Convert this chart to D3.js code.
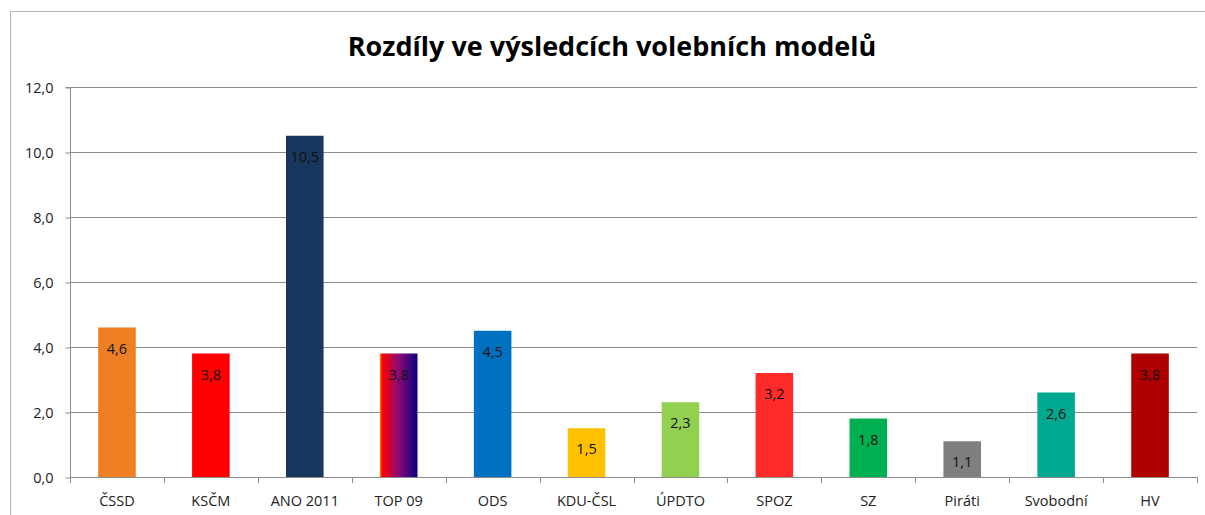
<!DOCTYPE html>
<html>
<head>
<meta charset="utf-8">
<script src="https://cdn.jsdelivr.net/npm/d3@7"></script>
<style>
  body { margin: 0; background: #fff; }
  text { font-family: "Open Sans", "Noto Sans", sans-serif; }
</style>
</head>
<body>
<div id="chart"></div>
<script>
var width = 1205;
var height = 515;

var parties = ['ČSSD', 'KSČM', 'ANO 2011', 'TOP 09', 'ODS', 'KDU-ČSL', 'ÚPDTO', 'SPOZ', 'SZ', 'Piráti', 'Svobodní', 'HV'];
var values = [4.6, 3.8, 10.5, 3.8, 4.5, 1.5, 2.3, 3.2, 1.8, 1.1, 2.6, 3.8];
var colors = ['#EE7F22', '#FF0000', '#17375E', 'url(#top09)', '#0070C0', '#FFC000', '#92D050', '#FF2B2B', '#00B050', '#7F7F7F', '#00A98F', '#AE0000'];
var yTicks = [0, 2, 4, 6, 8, 10, 12];

var margin = {top: 87, right: 8, bottom: 38, left: 70};

var svg = d3.select('#chart')
    .append('svg')
    .attr('width', width)
    .attr('height', height);

// gradient for TOP 09
var grad = svg.append('defs').append('linearGradient')
    .attr('id', 'top09')
    .attr('x1', '0%').attr('x2', '100%')
    .attr('y1', '0%').attr('y2', '0%');
grad.append('stop').attr('offset', '0%').attr('stop-color', '#FF8A00');
grad.append('stop').attr('offset', '6%').attr('stop-color', '#FF0000');
grad.append('stop').attr('offset', '50%').attr('stop-color', '#8A0A78');
grad.append('stop').attr('offset', '100%').attr('stop-color', '#0A0080');

// outer frame (clipped at right and bottom like the screenshot)
svg.append('rect')
    .attr('x', 10.5)
    .attr('y', 11.5)
    .attr('width', width + 20)
    .attr('height', height + 20)
    .attr('fill', 'none')
    .attr('stroke', '#B3B3B3')
    .attr('stroke-width', 1);

svg.append('text')
    .attr('x', 612)
    .attr('y', 56)
    .attr('text-anchor', 'middle')
    .attr('font-size', 27)
    .attr('font-weight', 'bold')
    .attr('fill', '#000')
    .text('Rozdíly ve výsledcích volebních modelů');

var x = d3.scaleBand()
    .domain(parties)
    .range([margin.left, width - margin.right])
    .paddingInner(0.6)
    .paddingOuter(0.3);

var y = d3.scaleLinear()
    .domain([0, 12])
    .range([height - margin.bottom, margin.top]);

// gridlines + y axis
var yAxis = d3.axisLeft(y)
    .tickValues(yTicks)
    .tickSize(5)
    .tickFormat((d) => d3.format('.1f')(d).replace('.', ','));

svg.append('g')
    .selectAll('line')
    .data(yTicks)
    .enter()
    .append('line')
    .attr('x1', margin.left)
    .attr('x2', width - margin.right)
    .attr('y1', (d) => Math.round(y(d)) + 0.5)
    .attr('y2', (d) => Math.round(y(d)) + 0.5)
    .attr('stroke', '#8C8C8C')
    .attr('stroke-width', 1);

var gy = svg.append('g')
    .attr('transform', `translate(${margin.left + 0.5}, 0.5)`)
    .call(yAxis);
gy.select('.domain').attr('stroke', '#8C8C8C').attr('d', `M-5,${y(12)}H0V${y(0)}`);
gy.selectAll('.tick line').attr('stroke', '#8C8C8C');
gy.selectAll('.tick text')
    .attr('font-size', 14.5)
    .attr('fill', '#222')
    .attr('x', -17)
    .style('font-family', '"Open Sans", sans-serif');

// bars
svg.append('g')
    .selectAll('rect')
    .data(parties)
    .enter()
    .append('rect')
    .attr('x', (d) => x(d))
    .attr('y', (d, i) => y(values[i]))
    .attr('width', x.bandwidth())
    .attr('height', (d, i) => y(0) - y(values[i]))
    .attr('fill', (d, i) => colors[i]);

// value labels
svg.append('g')
    .selectAll('text')
    .data(parties)
    .enter()
    .append('text')
    .attr('x', (d) => x(d) + x.bandwidth() / 2)
    .attr('y', (d, i) => y(values[i]) + 26)
    .attr('text-anchor', 'middle')
    .attr('font-size', 14.5)
    .attr('fill', '#111')
    .text((d, i) => d3.format('.1f')(values[i]).replace('.', ','));

// x axis with ticks between categories
var bounds = d3.range(parties.length + 1).map((i) => margin.left + i * (width - margin.right - margin.left) / parties.length);
var gx = svg.append('g');
gx.append('line')
    .attr('x1', margin.left)
    .attr('x2', width - margin.right)
    .attr('y1', Math.round(y(0)) + 0.5)
    .attr('y2', Math.round(y(0)) + 0.5)
    .attr('stroke', '#8C8C8C');
gx.selectAll('.bt')
    .data(bounds)
    .enter()
    .append('line')
    .attr('x1', (d) => Math.round(d) + 0.5)
    .attr('x2', (d) => Math.round(d) + 0.5)
    .attr('y1', Math.round(y(0)))
    .attr('y2', Math.round(y(0)) + 6)
    .attr('stroke', '#8C8C8C');
gx.selectAll('.lbl')
    .data(parties)
    .enter()
    .append('text')
    .attr('x', (d) => x(d) + x.bandwidth() / 2)
    .attr('y', Math.round(y(0)) + 29)
    .attr('text-anchor', 'middle')
    .attr('font-size', 14.5)
    .attr('fill', '#222')
    .text((d) => d);
</script>
</body>
</html>
